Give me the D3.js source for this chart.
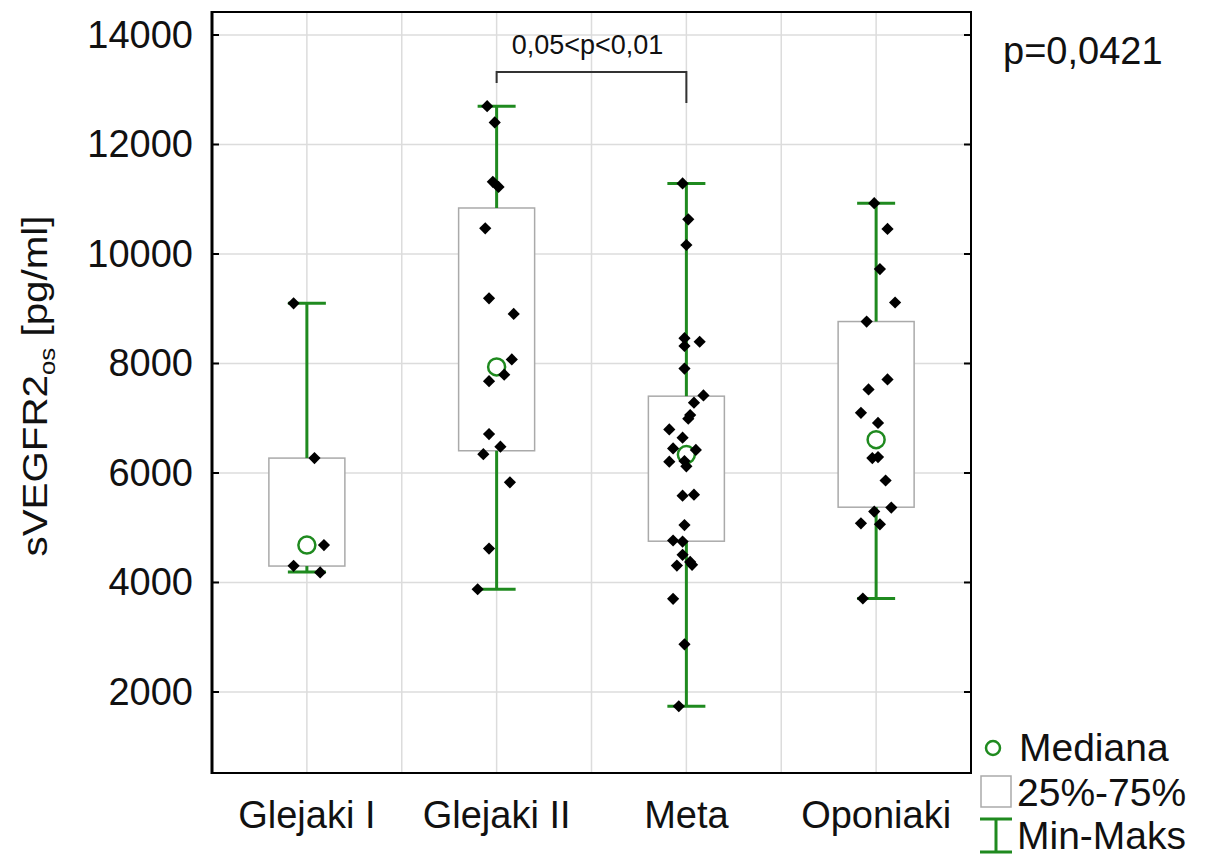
<!DOCTYPE html>
<html>
<head>
<meta charset="utf-8">
<title>sVEGFR2 box plot</title>
<script src="https://d3js.org/d3.v7.min.js"></script>
<style>
    body { margin: 0; background: #fff; }
    text { font-family: "Liberation Sans", Arial, sans-serif; fill: #111; }
    .grid line { stroke: #dcdcdc; stroke-width: 1.5px; }
</style>
</head>
<body>
<div id="chart"></div>
<script>
    // groups and their summary stats
    const categories = ["Glejaki I", "Glejaki II", "Meta", "Oponiaki"];
    const minVals = [4190, 3876, 1739, 3707];
    const q1Vals = [4300, 6406, 4754, 5375];
    const medVals = [4684, 7938, 6337, 6609];
    const q3Vals = [6272, 10840, 7403, 8766];
    const maxVals = [9099, 12700, 11289, 10929];

    // raw points: [value, horizontal jitter as fraction of band]
    const pointsGlejakiI = [[9099, -0.07], [6272, 0.04], [4684, 0.09], [4305, -0.07], [4183, 0.07]];
    const pointsGlejakiII = [[12700, -0.05], [12403, -0.01], [11318, -0.02], [11225, 0.01], [10468, -0.06],
        [9191, -0.04], [8905, 0.09], [8074, 0.08], [7795, 0.04], [7677, -0.04], [6710, -0.04],
        [6481, 0.02], [6344, -0.07], [5829, 0.07], [4620, -0.04], [3876, -0.10]];
    const pointsMeta = [[11289, -0.02], [10634, 0.01], [10164, 0], [8463, -0.01], [8397, 0.07], [8319, -0.01],
        [7907, -0.01], [7416, 0.09], [7285, 0.04], [7057, 0.02], [6991, 0.01], [6795, -0.09], [6645, -0.02],
        [6448, -0.07], [6422, 0.05], [6206, -0.09], [6219, -0.01], [6121, 0], [5585, -0.02], [5604, 0.04],
        [5048, -0.01], [4767, -0.07], [4748, -0.02], [4506, -0.02], [4309, -0.05], [4322, 0.03], [4375, 0.02],
        [3701, -0.07], [2870, -0.01], [1739, -0.04]];
    const pointsOponiaki = [[10929, -0.01], [10458, 0.06], [9725, 0.02], [9114, 0.10], [8766, -0.05],
        [7709, 0.06], [7526, -0.04], [7098, -0.08], [6914, 0.01], [6273, -0.02], [6291, 0.01], [5863, 0.05],
        [5369, 0.08], [5295, -0.01], [5081, -0.08], [5063, 0.02], [3707, -0.07]];
    const pointSets = [pointsGlejakiI, pointsGlejakiII, pointsMeta, pointsOponiaki];

    const yTicks = [2000, 4000, 6000, 8000, 10000, 12000, 14000];
    const yDomain = [520, 14420];
    const yLabel = "sVEGFR2";
    const yLabelSub = "os";
    const yLabelUnit = " [pg/ml]";
    const overallP = "p=0,0421";
    const pairLabel = "0,05<p<0,01";
    const pairGroups = ["Glejaki II", "Meta"];
    const legendLabels = ["Mediana", "25%-75%", "Min-Maks"];

    const green = "#1f8a1f";
    const W = 1216, H = 858;
    const pLeft = 212, pRight = 971, pTop = 12, pBottom = 773;

    const svg = d3.select("#chart").append("svg")
        .attr("width", W).attr("height", H);

    const x = d3.scaleBand().domain(categories).range([pLeft, pRight]).padding(0);
    const y = d3.scaleLinear().domain(yDomain).range([pBottom, pTop]);
    const cx = c => x(c) + x.bandwidth() / 2;

    // grid
    const grid = svg.append("g").attr("class", "grid");
    grid.selectAll(".hg").data(yTicks).join("line")
        .attr("x1", pLeft).attr("x2", pRight)
        .attr("y1", d => y(d)).attr("y2", d => y(d));
    const vLines = [];
    categories.forEach((c, i) => {
        vLines.push(cx(c));
        if (i > 0) vLines.push(x(c));
    });
    grid.selectAll(".vg").data(vLines).join("line")
        .attr("x1", d => d).attr("x2", d => d)
        .attr("y1", pTop).attr("y2", pBottom);

    // boxes
    const boxW = 76, capW = 38;
    const g = svg.append("g");
    categories.forEach((c, i) => {
        const xc = cx(c);
        g.append("rect")
            .attr("x", xc - boxW / 2).attr("width", boxW)
            .attr("y", y(q3Vals[i])).attr("height", y(q1Vals[i]) - y(q3Vals[i]))
            .attr("fill", "#fff").attr("stroke", "#aaa").attr("stroke-width", 1.5);
        // whiskers
        [[q3Vals[i], maxVals[i]], [q1Vals[i], minVals[i]]].forEach(([a, b]) => {
            g.append("line").attr("x1", xc).attr("x2", xc)
                .attr("y1", y(a)).attr("y2", y(b))
                .attr("stroke", green).attr("stroke-width", 3);
            g.append("line").attr("x1", xc - capW / 2).attr("x2", xc + capW / 2)
                .attr("y1", y(b)).attr("y2", y(b))
                .attr("stroke", green).attr("stroke-width", 3);
        });
    });

    // median circles
    categories.forEach((c, i) => {
        g.append("circle").attr("cx", cx(c)).attr("cy", y(medVals[i])).attr("r", 8.5)
            .attr("fill", "none").attr("stroke", green).attr("stroke-width", 2.5);
    });

    // raw points as diamonds
    const diamond = d3.symbol().type(d3.symbolDiamond2).size(95);
    categories.forEach((c, i) => {
        g.selectAll(null).data(pointSets[i]).join("path")
            .attr("d", diamond)
            .attr("transform", d => `translate(${cx(c) + d[1] * x.bandwidth()},${y(d[0])})`)
            .attr("fill", "#000");
    });

    // frame and ticks
    const frame = svg.append("g");
    frame.append("rect").attr("x", pLeft).attr("y", pTop)
        .attr("width", pRight - pLeft).attr("height", pBottom - pTop)
        .attr("fill", "none").attr("stroke", "#000").attr("stroke-width", 2);
    frame.append("line").attr("x1", pLeft).attr("x2", pLeft).attr("y1", pTop - 1).attr("y2", pBottom + 1)
        .attr("stroke", "#000").attr("stroke-width", 3);

    const yAxis = svg.append("g").attr("transform", `translate(${pLeft},0)`)
        .call(d3.axisLeft(y).tickValues(yTicks).tickSize(0).tickPadding(19).tickFormat(d3.format("d")));
    yAxis.select(".domain").remove();
    yAxis.selectAll("text").attr("font-size", 38).attr("font-family", "Liberation Sans, Arial").attr("fill", "#111");

    svg.append("g").selectAll("line").data(yTicks).join("line")
        .attr("x1", pLeft).attr("x2", pLeft + 7).attr("y1", d => y(d)).attr("y2", d => y(d))
        .attr("stroke", "#000").attr("stroke-width", 2);
    svg.append("g").selectAll("line").data(yTicks).join("line")
        .attr("x1", pRight - 7).attr("x2", pRight).attr("y1", d => y(d)).attr("y2", d => y(d))
        .attr("stroke", "#000").attr("stroke-width", 2);

    const xAxis = svg.append("g").attr("transform", `translate(0,${pBottom})`)
        .call(d3.axisBottom(x).tickSize(0).tickPadding(28));
    xAxis.select(".domain").remove();
    xAxis.selectAll("text").attr("font-size", 38).attr("font-family", "Liberation Sans, Arial").attr("fill", "#111");

    // y label (a bit condensed, like the original)
    const yl = svg.append("text")
        .attr("transform", `translate(47,386) rotate(-90) scale(1.12,1)`)
        .attr("text-anchor", "middle").attr("font-size", 36);
    yl.append("tspan").text(yLabel);
    yl.append("tspan").attr("font-size", 23).attr("dy", 8).text(yLabelSub);
    yl.append("tspan").attr("dy", -8).text(yLabelUnit);

    // overall p
    svg.append("text").attr("x", 1003).attr("y", 64).attr("font-size", 38).text(overallP);

    // pairwise bracket
    const bx1 = cx(pairGroups[0]), bx2 = cx(pairGroups[1]);
    svg.append("path")
        .attr("d", `M${bx1},83 V72 H${bx2} V103`)
        .attr("fill", "none").attr("stroke", "#333").attr("stroke-width", 2);
    svg.append("text").attr("x", (bx1 + bx2) / 2 - 4).attr("y", 54)
        .attr("text-anchor", "middle").attr("font-size", 27).text(pairLabel);

    // legend
    const lg = svg.append("g");
    lg.append("circle").attr("cx", 993).attr("cy", 748).attr("r", 7)
        .attr("fill", "none").attr("stroke", green).attr("stroke-width", 2.5);
    lg.append("rect").attr("x", 981).attr("y", 776).attr("width", 30).attr("height", 31)
        .attr("fill", "#fff").attr("stroke", "#aaa").attr("stroke-width", 1.5);
    lg.append("path").attr("d", "M980,819 H1012 M996,819 V852 M980,852 H1012")
        .attr("fill", "none").attr("stroke", green).attr("stroke-width", 3);
    const lgY = [761, 806, 849];
    const lgX = [1019, 1017, 1017];
    lg.selectAll("text").data(legendLabels).join("text")
        .attr("x", (d, i) => lgX[i]).attr("y", (d, i) => lgY[i])
        .attr("font-size", 39).text(d => d);
</script>
</body>
</html>
